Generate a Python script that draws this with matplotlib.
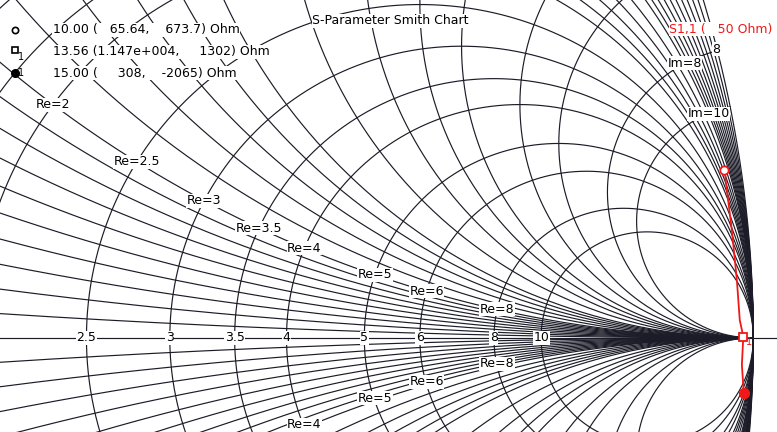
import numpy as np
import matplotlib.pyplot as plt

W, H = 777, 432

# normalised grid of the chart (r = R/Z0, x = X/Z0)
res_grid = [0, 0.1, 0.2, 0.3, 0.4, 0.5, 0.6, 0.7, 0.8, 0.9, 1.0,
            1.2, 1.4, 1.6, 1.8, 2.0, 2.5, 3, 3.5, 4, 5, 6, 8, 10]
react_grid = [0.1, 0.2, 0.3, 0.4, 0.5, 0.6, 0.7, 0.8, 0.9, 1.0,
              1.2, 1.4, 1.6, 1.8, 2.0, 2.5, 3, 3.5, 4, 5, 6, 8, 10]
axis_labels = [2.5, 3, 3.5, 4, 5, 6, 8, 10]
re_labels_up = [2, 2.5, 3, 3.5, 4, 5, 6, 8]
re_labels_down = [4, 5, 6, 8]
im_labels = [8, 10]
rim_labels = [8]

Z0 = 50.0
# S1,1 trace (Ohm)
trace_R = [65.64, 157, 478, 3070, 11470, 1506, 308]
trace_X = [673.7, 1040, 1862, 4140, 1302, -3667, -2065]
# markers
mk_freq = [10.00, 13.56, 15.00]
mk_R = [65.64, 11470, 308]
mk_X = [673.7, 1302, -2065]


def gamma(z):
    return (z - 1) / (z + 1)


def fig_xy(px, py):
    return px / W, 1 - py / H


def fmt(v):
    s = '%.4g' % v
    return s.replace('e+0', 'e+00')


lc = '#1c1c28'
red = '#f01818'
box = dict(facecolor='white', edgecolor='none', pad=0.4)

fig = plt.figure(figsize=(W / 100, H / 100), dpi=100)
ax = fig.add_axes([0, 0, 1, 1])
ax.set_xlim(0.3545, 1.0203)
ax.set_ylim(-0.0806, 0.2896)
ax.axis('off')

th = np.linspace(0, 2 * np.pi, 5000)
for r in res_grid:
    c = r / (r + 1)
    rad = 1 / (r + 1)
    ax.plot(c + rad * np.cos(th), rad * np.sin(th), color=lc, lw=0.85)

rr = np.concatenate([[0], np.logspace(-3, 5, 4000)])
for x in react_grid:
    for s in (1, -1):
        g = gamma(rr + 1j * s * x)
        ax.plot(g.real, g.imag, color=lc, lw=0.85)
ax.axhline(0, color=lc, lw=0.85)

# grid labels
for r in axis_labels:
    ax.text(gamma(r).real, 0, '%g' % r, ha='center', va='center',
            fontsize=9, bbox=box, zorder=5)
for r in re_labels_up:
    g = gamma(r + 1j)
    ax.text(g.real, g.imag, 'Re=%g' % r, ha='center', va='center',
            fontsize=9, bbox=box, zorder=5)
for r in re_labels_down:
    g = gamma(r - 1j)
    ax.annotate('Re=%g' % r, (g.real, g.imag), xytext=(0, 2),
                textcoords='offset points', ha='center', va='center',
                fontsize=9, bbox=box, zorder=5)
for x in im_labels:
    g = gamma(1 + 1j * x)
    ax.text(g.real, g.imag, 'Im=%g' % x, ha='center', va='center',
            fontsize=9, bbox=box, zorder=5)
for x in rim_labels:
    g = gamma(1j * x)
    ax.annotate('%g' % x, (g.real, g.imag), xytext=(-1, 1),
                textcoords='offset points', ha='center', va='center',
                fontsize=9, bbox=box, zorder=5)

# trace
zt = (np.array(trace_R) + 1j * np.array(trace_X)) / Z0
gt = gamma(zt)
ax.plot(gt.real, gt.imag, color=red, lw=1.3, zorder=6)

gm = gamma((np.array(mk_R) + 1j * np.array(mk_X)) / Z0)
ax.plot(gm.real[0], gm.imag[0], 'o', ms=6, mfc='white', mec=red, mew=1.3, zorder=7)
ax.plot(gm.real[1], gm.imag[1], 's', ms=6, mfc='white', mec=red, mew=1.3, zorder=7)
ax.plot(gm.real[2], gm.imag[2], 'o', ms=7, mfc=red, mec=red, zorder=7)
ax.annotate('1', (gm.real[1], gm.imag[1]), xytext=(2, -6),
            textcoords='offset points', fontsize=7, color=red, zorder=8)

# title and trace name
fig.text(*fig_xy(312, 21), 'S-Parameter Smith Chart', fontsize=9,
         ha='left', va='center', bbox=box, zorder=9)
fig.text(*fig_xy(669, 29), 'S1,1 (   50 Ohm)', fontsize=9, color=red,
         ha='left', va='center', bbox=box, zorder=9)

# marker readout
rows_y = [30, 52, 73]
for i in range(3):
    line = '%.2f (%8s,%9s) Ohm' % (mk_freq[i], fmt(mk_R[i]), fmt(mk_X[i]))
    fig.text(*fig_xy(53, rows_y[i]), line, fontsize=9, ha='left',
             va='center', bbox=box, zorder=9)
mx, my = fig_xy(15, rows_y[0])
fig.add_artist(plt.Line2D([mx], [my], marker='o', ms=4.5, mfc='white',
                          mec='black', mew=1.2))
mx, my = fig_xy(15, rows_y[1] - 2)
fig.add_artist(plt.Line2D([mx], [my], marker='s', ms=5, mfc='white',
                          mec='black', mew=1.2))
fig.text(*fig_xy(18, rows_y[1] + 5), '1', fontsize=7, ha='left', va='center')
mx, my = fig_xy(15, rows_y[2])
fig.add_artist(plt.Line2D([mx], [my], marker='o', ms=5.5, mfc='black',
                          mec='black'))
fig.text(*fig_xy(18, rows_y[2]), '1', fontsize=7, ha='left', va='center')

fig.savefig('out.png', dpi=100, facecolor='white')
